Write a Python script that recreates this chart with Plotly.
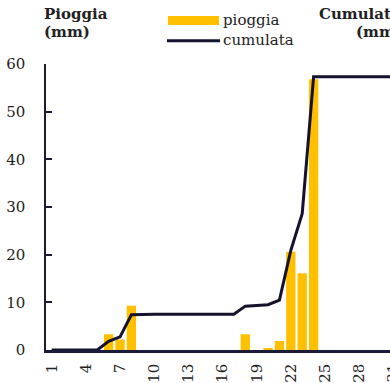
import plotly.graph_objects as go

# Daily rainfall (mm) and running total (mm), days of the month
days = [1, 2, 3, 4, 5, 6, 7, 8, 9, 10, 11, 12, 13, 14, 15, 16,
        17, 18, 19, 20, 21, 22, 23, 24, 25, 26, 27, 28, 29, 30, 31]
pioggia = [0, 0, 0, 0, 0, 3.3, 2.2, 9.3, 0, 0, 0, 0, 0, 0, 0, 0,
           0, 3.3, 0, 0.35, 1.9, 20.6, 16.1, 56.8, 0, 0, 0, 0, 0, 0, 0]
cumulata = [0, 0, 0, 0, 0, 3.6, 5.5, 14.8, 15.0, 15.0, 15.0, 15.0, 15.0, 15.0, 15.0, 15.0,
            15.0, 18.4, 18.6, 19.0, 20.9, 41.8, 57.2, 114.6, 114.6, 114.6, 114.6, 114.6, 114.6, 114.6, 114.6]
x_ticks = [1, 4, 7, 10, 13, 16, 19, 22, 25, 28, 31]
y_ticks = [0, 10, 20, 30, 40, 50, 60]

FONT = "DejaVu Serif"
INK = "#1c1a3a"
GOLD = "#FFC000"
TXT = "#222222"
FS = 15

W, H = 440, 383
L, R, T, B = 46, 41, 64, 33
PW, PH = W - L - R, H - T - B


def px(xp):
    return (xp - L) / PW


def py(yp):
    return (H - B - yp) / PH


fig = go.Figure()
fig.add_trace(go.Bar(x=days, y=pioggia, name="pioggia", marker=dict(color=GOLD, line=dict(width=0)),
                     showlegend=False))
fig.add_trace(go.Scatter(x=days, y=cumulata, name="cumulata", mode="lines", yaxis="y2",
                         line=dict(color="#15122d", width=3), showlegend=False))

fig.update_layout(
    width=W, height=H,
    margin=dict(l=L, r=R, t=T, b=B, pad=0),
    paper_bgcolor="white", plot_bgcolor="white",
    bargap=0.18,
    font=dict(family=FONT, size=FS, color=TXT),
    xaxis=dict(range=[0.5, 31.5], tickvals=x_ticks, ticktext=[str(v) for v in x_ticks],
               tickangle=-90, showgrid=False, zeroline=False, showline=True, automargin=False,
               linecolor=INK, linewidth=2.5, ticks="", ticklabelstandoff=5,
               tickfont=dict(family=FONT, size=FS, color=TXT)),
    yaxis=dict(range=[0, 60], tickvals=y_ticks, showgrid=False, zeroline=False, automargin=False,
               showline=True, linecolor=INK, linewidth=1.5, ticks="inside", ticklen=6,
               tickcolor=INK, tickwidth=1.5, ticklabelstandoff=16,
               tickfont=dict(family=FONT, size=FS, color=TXT)),
    yaxis2=dict(range=[0, 120], overlaying="y", side="right", showgrid=False, zeroline=False,
                automargin=False, showline=True, linecolor=INK, linewidth=1.5, ticks="inside",
                ticklen=6, tickcolor=INK, showticklabels=False),
)

# Axis titles
for text, xp, yp in [("Pioggia", 42, 14), ("(mm)", 42, 32), ("Cumulata", 317, 14), ("(mm)", 354, 32)]:
    fig.add_annotation(text="<b>%s</b>" % text, x=px(xp), y=py(yp), xref="paper", yref="paper",
                       xanchor="left", yanchor="middle", showarrow=False,
                       font=dict(family=FONT, size=FS, color=TXT))

# Legend
fig.add_shape(type="rect", xref="paper", yref="paper", x0=px(168), x1=px(219), y0=py(25), y1=py(16),
              fillcolor=GOLD, line=dict(width=0))
fig.add_shape(type="line", xref="paper", yref="paper", x0=px(167), x1=px(220), y0=py(40.7), y1=py(40.7),
              line=dict(color="#15122d", width=3))
fig.add_annotation(text="pioggia", x=px(221), y=py(20), xref="paper", yref="paper",
                   xanchor="left", yanchor="middle", showarrow=False,
                   font=dict(family=FONT, size=FS, color=TXT))
fig.add_annotation(text="cumulata", x=px(221), y=py(40), xref="paper", yref="paper",
                   xanchor="left", yanchor="middle", showarrow=False,
                   font=dict(family=FONT, size=FS, color=TXT))

fig.write_html("out.html")
